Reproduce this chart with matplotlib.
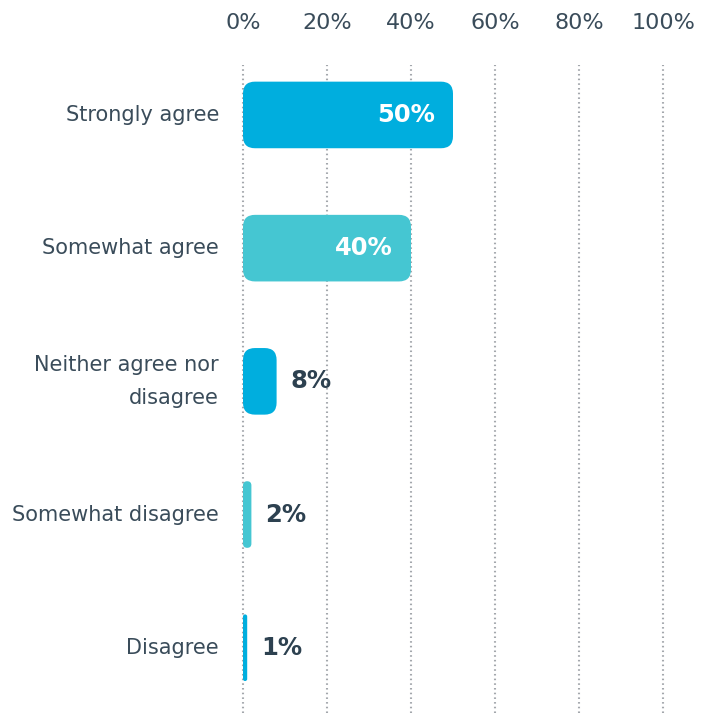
import matplotlib
matplotlib.use("Agg")
import matplotlib.pyplot as plt
from matplotlib.patches import FancyBboxPatch

# data
categories = ["Strongly agree", "Somewhat agree", "Neither agree nor\ndisagree",
              "Somewhat disagree", "Disagree"]
values = [50, 40, 8, 2, 1]
bar_colors = ["#00AEDE", "#45C6D2", "#00AEDE", "#45C6D2", "#00AEDE"]
ticks = [0, 20, 40, 60, 80, 100]
tick_labels = ["0%", "20%", "40%", "60%", "80%", "100%"]

TEXT = "#3A4C5A"
DARK = "#2D4150"

W, H = 721, 713
fig = plt.figure(figsize=(W / 100, H / 100), dpi=100)
x0, x1 = 243, 663
y_top = 65
ax = fig.add_axes([x0 / W, 0, (x1 - x0) / W, (H - y_top) / H])

ylo, yhi = -0.375, 4.49
ax.set_xlim(0, 100)
ax.set_ylim(yhi, ylo)

# pixel scale per data unit
px_x = (x1 - x0) / 100
px_y = (H - y_top) / (yhi - ylo)

for t in ticks:
    ax.axvline(t, color="#A3A7AC", linestyle=(0, (0.75, 1.5)), linewidth=1.5,
               zorder=0, clip_on=False)

bar_h = 0.5
for i, (v, c) in enumerate(zip(values, bar_colors)):
    w_px = v * px_x
    r_px = min(12, w_px / 2, 0.5 * bar_h * px_y)
    box = FancyBboxPatch((0, i - bar_h / 2), v, bar_h,
                         boxstyle=f"round,pad=0,rounding_size={r_px / px_x}",
                         mutation_aspect=px_x / px_y,
                         facecolor=c, edgecolor="none", zorder=2)
    ax.add_patch(box)
    if v >= 20:
        ax.text(v - 18 / px_x, i, f"{v}%", ha="right", va="center",
                color="white", fontsize=17.5, fontweight="bold", zorder=3)
    else:
        ax.text(v + 14 / px_x, i, f"{v}%", ha="left", va="center",
                color=DARK, fontsize=17.5, fontweight="bold", zorder=3)

# category labels placed by hand so the two-line one centres on its bar
ax.set_yticks(range(len(categories)))
ax.set_yticklabels([])
for i, cat in enumerate(categories):
    ax.text(-24 / px_x, i, cat, ha="right", va="center", fontsize=15,
            color=TEXT, linespacing=1.8, clip_on=False)

ax.set_xticks(ticks)
ax.set_xticklabels(tick_labels, fontsize=16, color=TEXT)
ax.xaxis.tick_top()
ax.tick_params(axis="both", length=0)
ax.tick_params(axis="x", pad=23)
for s in ax.spines.values():
    s.set_visible(False)

fig.savefig("out.png", dpi=100)
